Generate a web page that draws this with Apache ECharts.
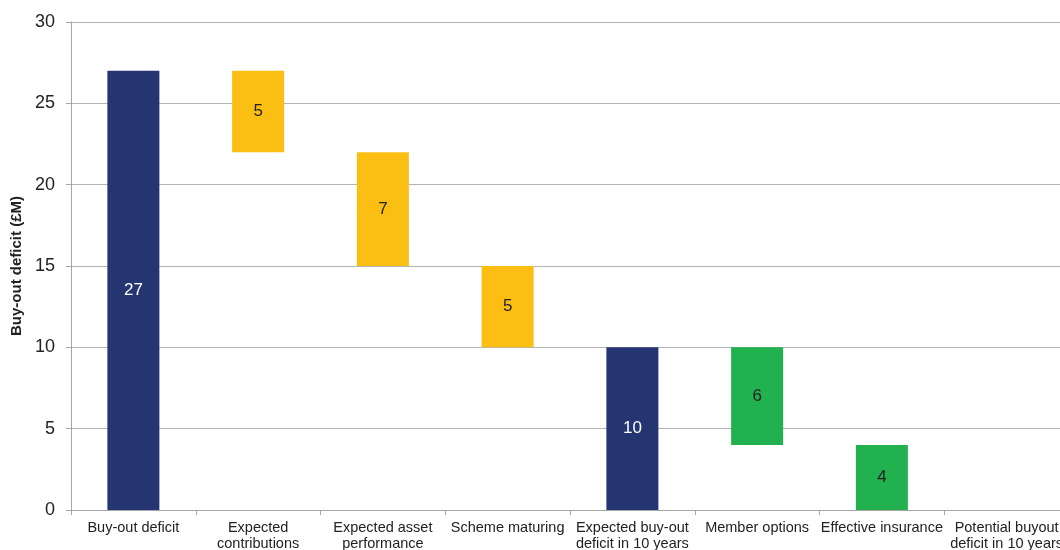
<!DOCTYPE html>
<html><head><meta charset="utf-8">
<script src="https://cdn.jsdelivr.net/npm/echarts@6/dist/echarts.min.js"></script>
<style>html,body{margin:0;padding:0;background:#fff}#c{width:1060px;height:550px}</style>
</head><body><div id="c"></div>
<script>
var categories = ['Buy-out deficit','Expected\ncontributions','Expected asset\nperformance','Scheme maturing','Expected buy-out\ndeficit in 10 years','Member options','Effective insurance','Potential buyout\ndeficit in 10 years'];
var baseValues = [0, 22, 15, 10, 0, 4, 0, 0];
var changeValues = [27, 5, 7, 5, 10, 6, 4, 0];
var barKinds = ['total','down','down','down','total','reduce','reduce','total'];
var yTicks = [0, 5, 10, 15, 20, 25, 30];

var kindColor = {total:'#253571', down:'#FBBF14', reduce:'#21B24F'};
var kindLabel = {total:'#ffffff', down:'#222222', reduce:'#222222'};

var chart = echarts.init(document.getElementById('c'));
chart.setOption({
  animation:false,
  textStyle:{fontFamily:'Liberation Sans, Arial, sans-serif'},
  grid:{left:71, width:998, top:22, bottom:40, containLabel:false, outerBoundsMode:'none'},
  xAxis:{type:'category', data:categories,
    axisLine:{lineStyle:{color:'#a6a6a6'}},
    axisTick:{show:true, alignWithLabel:false, length:5, lineStyle:{color:'#a6a6a6'}},
    axisLabel:{color:'#222', fontSize:14.5, lineHeight:16, margin:10, interval:0}},
  yAxis:{type:'value', min:yTicks[0], max:yTicks[yTicks.length-1], interval:5,
    name:'Buy-out deficit (£M)', nameLocation:'middle', nameGap:43,
    nameTextStyle:{fontWeight:'bold', fontSize:15, color:'#222'},
    axisLine:{show:true, lineStyle:{color:'#a6a6a6'}},
    axisTick:{show:true, length:5, lineStyle:{color:'#a6a6a6'}},
    axisLabel:{color:'#222', fontSize:18, margin:16, padding:[4,0,0,0]},
    splitLine:{lineStyle:{color:'#b3b3b3'}}},
  series:[
    {type:'bar', stack:'w', barWidth:52, data:baseValues, itemStyle:{color:'transparent'}, silent:true},
    {type:'bar', stack:'w', barWidth:52,
     data:changeValues.map(function(v,i){
       return {value:v, itemStyle:{color:kindColor[barKinds[i]]},
         label:{show:v>0, color:kindLabel[barKinds[i]]}};
     }),
     label:{show:true, position:'inside', fontSize:17, padding:[5,0,0,0]}}
  ]
});
</script></body></html>
